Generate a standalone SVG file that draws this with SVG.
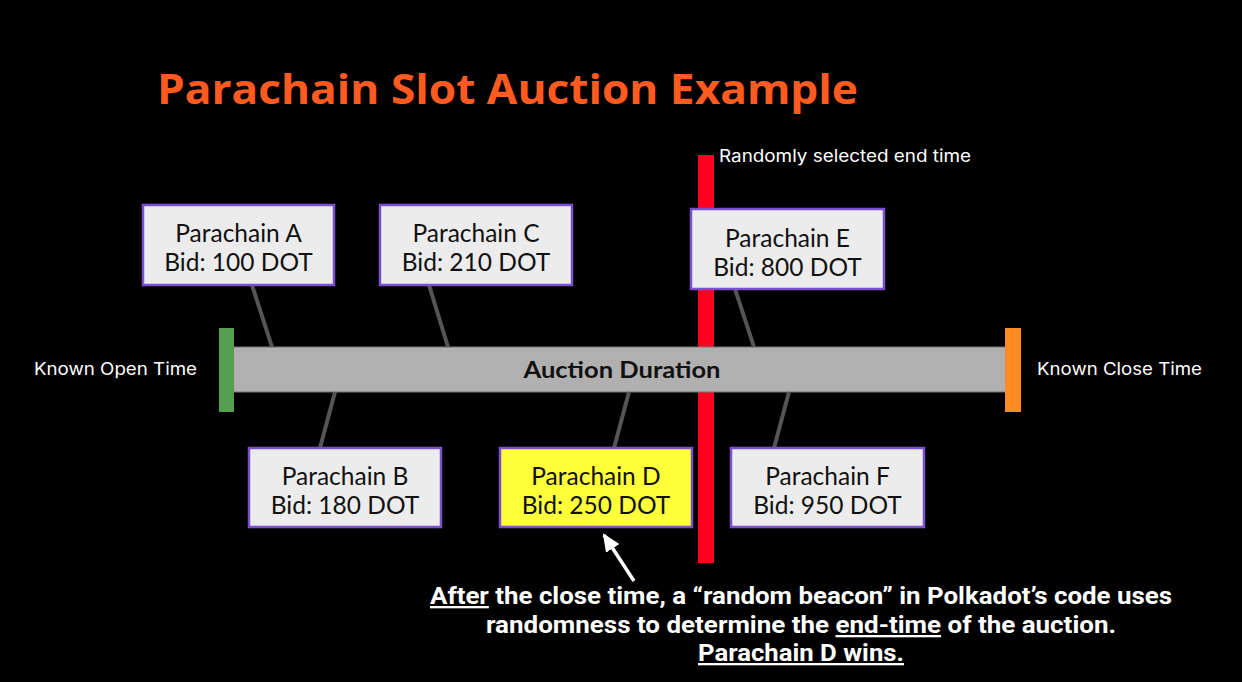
<svg xmlns="http://www.w3.org/2000/svg" width="1242" height="682" viewBox="0 0 1242 682">
<defs>
<style>
.box{fill:#ececec;stroke:#7b4fd0;stroke-width:2.5}
.bt{font-family:Lato,"Open Sans",sans-serif;font-size:24.5px;fill:#111;text-anchor:middle}
.lbl{font-family:Inter,"Open Sans",sans-serif;font-size:17px;fill:#fff}
.con{stroke:#555;stroke-width:4;fill:none}
.note{font-family:Roboto,"Liberation Sans",sans-serif;font-weight:bold;font-size:23px;fill:#fff;text-anchor:middle}
</style>
<marker id="ah" markerWidth="18" markerHeight="16" refX="16" refY="8" orient="auto" markerUnits="userSpaceOnUse" viewBox="0 0 18 16">
<path d="M0,0 L18,8 L0,16 z" fill="#fff"/>
</marker>
</defs>
<rect width="1242" height="682" fill="#000"/>
<text x="157" y="104" font-family="'Open Sans',Lato,sans-serif" font-weight="700" font-size="42" fill="#ff5a1f" textLength="701" lengthAdjust="spacingAndGlyphs">Parachain Slot Auction Example</text>

<g id="end-marker">
<rect x="698" y="155" width="16" height="408" fill="#ff0020"/>
<text class="lbl" x="719" y="162" textLength="252" lengthAdjust="spacingAndGlyphs">Randomly selected end time</text>
</g>

<g id="timeline">
<rect x="232" y="347" width="774" height="45" fill="#b0b0b0" stroke="#777" stroke-width="1"/>
<text x="622" y="378" font-family="Lato,'Open Sans',sans-serif" font-weight="bold" font-size="22" fill="#111" text-anchor="middle" textLength="197" lengthAdjust="spacingAndGlyphs">Auction Duration</text>
</g>
<g id="open-marker">
<rect x="219" y="328" width="15" height="84" fill="#55a050"/>
<text class="lbl" x="34" y="375" textLength="163" lengthAdjust="spacingAndGlyphs">Known Open Time</text>
</g>
<g id="close-marker">
<rect x="1005" y="328" width="16" height="84" fill="#ff8c22"/>
<text class="lbl" x="1037" y="375" textLength="165" lengthAdjust="spacingAndGlyphs">Known Close Time</text>
</g>

<g id="connectors">
<line class="con" x1="252" y1="285" x2="272" y2="347"/>
<line class="con" x1="429" y1="285" x2="448" y2="347"/>
<line class="con" x1="735" y1="289" x2="754" y2="347"/>
<line class="con" x1="335" y1="392" x2="320" y2="448"/>
<line class="con" x1="629" y1="392" x2="614" y2="448"/>
<line class="con" x1="789" y1="392" x2="774" y2="448"/>
<line x1="634" y1="581" x2="604" y2="535" stroke="#fff" stroke-width="3.5" marker-end="url(#ah)"/>
</g>

<g id="parachain-a">
<rect class="box" x="143" y="205" width="191" height="80"/>
<text class="bt" x="238.5" y="242">Parachain A</text>
<text class="bt" x="238.5" y="271">Bid: 100 DOT</text>
</g>
<g id="parachain-c">
<rect class="box" x="380" y="205" width="192" height="80"/>
<text class="bt" x="476" y="242">Parachain C</text>
<text class="bt" x="476" y="271">Bid: 210 DOT</text>
</g>
<g id="parachain-e">
<rect class="box" x="691" y="209" width="193" height="80"/>
<text class="bt" x="787.5" y="247">Parachain E</text>
<text class="bt" x="787.5" y="276">Bid: 800 DOT</text>
</g>
<g id="parachain-b">
<rect class="box" x="249" y="448" width="192" height="79"/>
<text class="bt" x="345" y="485">Parachain B</text>
<text class="bt" x="345" y="514">Bid: 180 DOT</text>
</g>
<g id="parachain-d">
<rect class="box" x="500" y="448" width="192" height="79" style="fill:#ffff3a"/>
<text class="bt" x="596" y="485">Parachain D</text>
<text class="bt" x="596" y="514">Bid: 250 DOT</text>
</g>
<g id="parachain-f">
<rect class="box" x="731" y="448" width="193" height="79"/>
<text class="bt" x="827.5" y="485">Parachain F</text>
<text class="bt" x="827.5" y="514">Bid: 950 DOT</text>
</g>

<g id="note">
<text class="note" x="801" y="604" textLength="742" lengthAdjust="spacingAndGlyphs"><tspan text-decoration="underline">After</tspan> the close time, a “random beacon” in Polkadot’s code uses</text>
<text class="note" x="801" y="633" textLength="630" lengthAdjust="spacingAndGlyphs">randomness to determine the <tspan text-decoration="underline">end-time</tspan> of the auction.</text>
<text class="note" x="801" y="661" textLength="206" lengthAdjust="spacingAndGlyphs"><tspan text-decoration="underline">Parachain D wins.</tspan></text>
</g>
</svg>
